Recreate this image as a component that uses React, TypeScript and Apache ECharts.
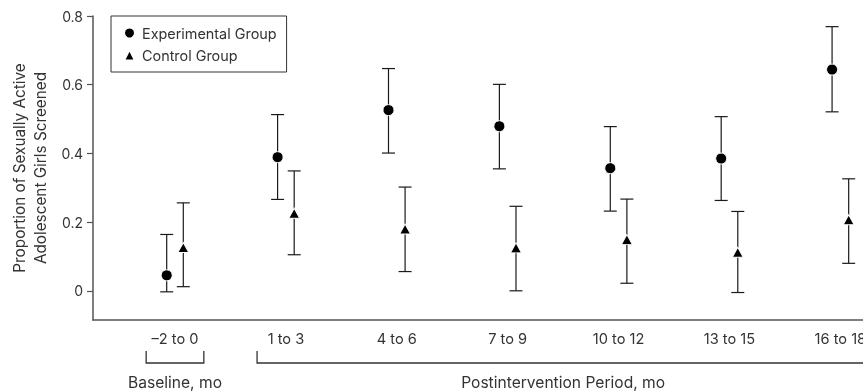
import React, { useEffect, useRef } from 'react';
import * as echarts from 'echarts';

const categories = ['\u20132 to 0', '1 to 3', '4 to 6', '7 to 9', '10 to 12', '13 to 15', '16 to 18'];
const expMean = [0.045, 0.389, 0.526, 0.479, 0.357, 0.385, 0.644];
const expLow = [-0.003, 0.266, 0.401, 0.355, 0.232, 0.263, 0.521];
const expHigh = [0.164, 0.513, 0.647, 0.601, 0.478, 0.507, 0.769];
const ctlMean = [0.126, 0.226, 0.180, 0.125, 0.149, 0.112, 0.207];
const ctlLow = [0.012, 0.105, 0.056, 0.0, 0.022, -0.005, 0.080];
const ctlHigh = [0.256, 0.349, 0.302, 0.246, 0.267, 0.231, 0.326];
const yTicks = [0, 0.2, 0.4, 0.6, 0.8];
const periodGroups = [
  { label: 'Baseline, mo', from: 0, to: 0 },
  { label: 'Postintervention Period, mo', from: 1, to: 6 },
];

const FONT = 'Inter, "Liberation Sans", Arial, sans-serif';
const TEXT = '#333';
const Y_MIN = -0.085;

export default function App() {
  const ref = useRef<HTMLDivElement>(null);
  useEffect(() => {
    const chart = echarts.init(ref.current!, null, { renderer: 'svg' });
    const OFF = 8.3;
    const HW = 6.5;
    const PAD = 0.26;

    const errSeries = (name: string, lo: number[], hi: number[], dx: number) => ({
      type: 'custom',
      name,
      silent: true,
      clip: false,
      z: 2,
      data: categories.map((_, i) => [i, lo[i], hi[i]]),
      encode: { x: 0, y: [1, 2] },
      renderItem: (_p: any, api: any) => {
        const lp = api.coord([api.value(0), api.value(1)]);
        const hp = api.coord([api.value(0), api.value(2)]);
        const x = lp[0] + dx;
        const style = { stroke: '#1a1a1a', lineWidth: 1.2 };
        return {
          type: 'group',
          children: [
            { type: 'line', shape: { x1: x, y1: lp[1], x2: x, y2: hp[1] }, style },
            { type: 'line', shape: { x1: x - HW, y1: hp[1], x2: x + HW, y2: hp[1] }, style },
            { type: 'line', shape: { x1: x - HW, y1: lp[1], x2: x + HW, y2: lp[1] }, style },
          ],
        };
      },
    });

    const bracketSeries = {
      type: 'custom',
      name: 'periods',
      silent: true,
      clip: false,
      z: 1,
      data: periodGroups.map((g, i) => [g.from - PAD, g.to + PAD, i]),
      encode: { x: [0, 1] },
      renderItem: (_p: any, api: any) => {
        const a = api.coord([api.value(0), Y_MIN]);
        const b = api.coord([api.value(1), Y_MIN]);
        const idx = api.value(2);
        const base = a[1];
        const top = base + 31;
        const bot = base + 43;
        return {
          type: 'group',
          children: [
            {
              type: 'polyline',
              shape: { points: [[a[0], top], [a[0], bot], [b[0], bot], [b[0], top]] },
              style: { stroke: '#333', lineWidth: 1.3, fill: 'none' },
            },
            {
              type: 'text',
              style: {
                text: periodGroups[idx].label,
                x: (a[0] + b[0]) / 2,
                y: base + 62,
                align: 'center',
                verticalAlign: 'middle',
                fontSize: 15.6,
                fontFamily: FONT,
                fill: TEXT,
              },
            },
          ],
        };
      },
    };

    chart.setOption({
      animation: false,
      grid: { left: 93, top: 16, right: 0, bottom: 72, containLabel: false, outerBoundsMode: 'none' },
      legend: {
        left: 111,
        top: 16,
        orient: 'vertical',
        borderColor: '#333',
        borderWidth: 1,
        padding: [10, 10, 10, 12],
        itemGap: 8,
        itemWidth: 11,
        itemHeight: 11,
        selectedMode: false,
        textStyle: { fontSize: 14.4, color: TEXT, fontFamily: FONT, padding: [0, 0, 0, 2] },
        data: ['Experimental Group', 'Control Group'],
      },
      xAxis: {
        type: 'value',
        min: -0.7394,
        max: 6.204,
        axisLine: { show: true, onZero: false, lineStyle: { color: '#555', width: 1.5 } },
        axisTick: { show: false },
        splitLine: { show: false },
        axisLabel: {
          customValues: categories.map((_, i) => i),
          formatter: (v: number) => categories[Math.round(v)] ?? '',
          margin: 11,
          fontSize: 14.6,
          color: TEXT,
          fontFamily: FONT,
        },
      },
      yAxis: {
        type: 'value',
        min: Y_MIN,
        max: 0.8,
        name: 'Proportion of Sexually Active\nAdolescent Girls Screened',
        nameLocation: 'middle',
        nameRotate: 90,
        nameGap: 42,
        nameTextStyle: { fontSize: 15.3, lineHeight: 21, color: TEXT, fontFamily: FONT },
        axisLine: { show: true, onZero: false, lineStyle: { color: '#555', width: 1.5 } },
        axisTick: { show: true, length: 6, customValues: yTicks, lineStyle: { color: '#555', width: 1.2 } },
        splitLine: { show: false },
        axisLabel: {
          customValues: yTicks,
          formatter: (v: number) => (v === 0 ? '0' : v.toFixed(1)),
          margin: 10,
          fontSize: 14,
          color: TEXT,
          fontFamily: FONT,
        },
      },
      series: [
        bracketSeries,
        errSeries('expErr', expLow, expHigh, -OFF),
        errSeries('ctlErr', ctlLow, ctlHigh, OFF),
        {
          type: 'scatter',
          name: 'Experimental Group',
          data: categories.map((_, i) => [i, expMean[i]]),
          symbol: 'circle',
          symbolSize: 11,
          symbolOffset: [-OFF, 0],
          clip: false,
          z: 3,
          itemStyle: { color: '#000', borderColor: '#fff', borderWidth: 1, opacity: 1 },
        },
        {
          type: 'scatter',
          name: 'Control Group',
          data: categories.map((_, i) => [i, ctlMean[i]]),
          symbol: 'triangle',
          symbolSize: [11, 10],
          symbolOffset: [OFF, 0],
          clip: false,
          z: 3,
          itemStyle: { color: '#000', borderColor: '#fff', borderWidth: 1, opacity: 1 },
        },
      ],
    });
    return () => chart.dispose();
  }, []);
  return <div ref={ref} style={{ position: 'fixed', left: 0, top: 0, width: 863, height: 392 }} />;
}
